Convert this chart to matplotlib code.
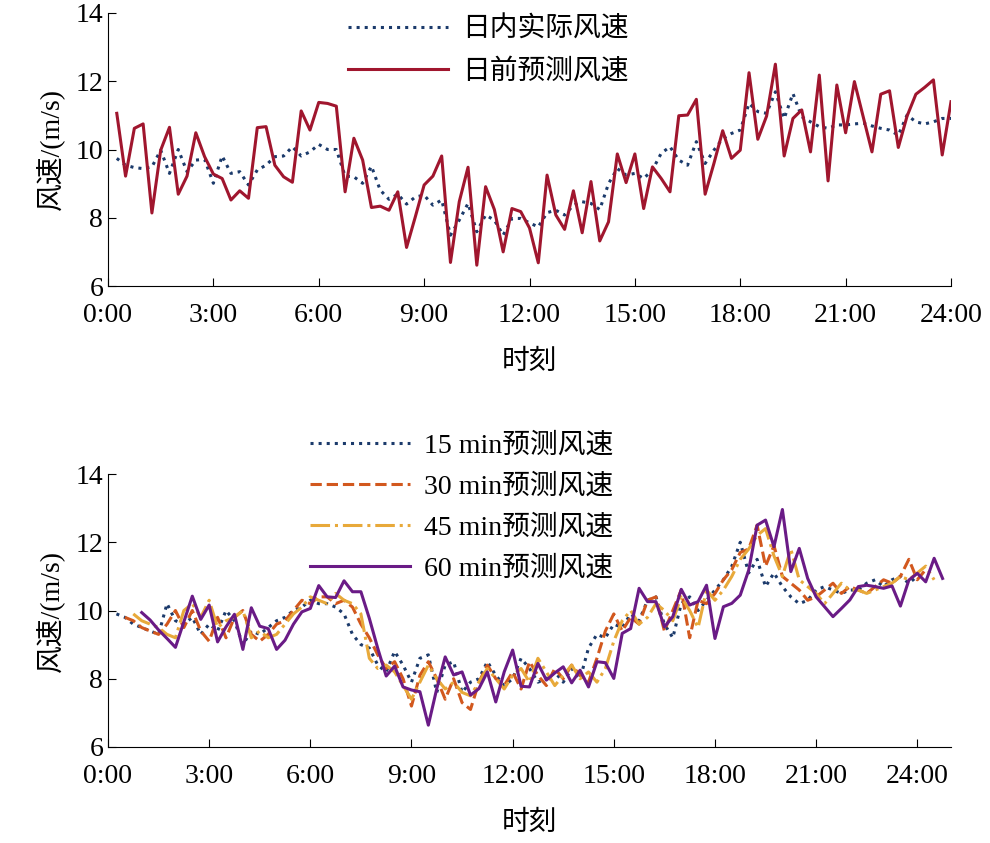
import matplotlib.pyplot as plt
import numpy as np
from matplotlib import font_manager

names = {f.name for f in font_manager.fontManager.ttflist}
cjk = [n for n in ['Noto Sans CJK SC', 'Noto Sans CJK JP', 'Noto Serif CJK SC'] if n in names]
plt.rcParams['font.family'] = ['Liberation Serif'] + cjk
plt.rcParams['font.size'] = 19

# top panel: quarter-hour values 0:15 .. 24:00
actual = [9.74, 9.54, 9.47, 9.44, 9.49, 9.98, 9.30, 10.0, 9.35, 9.69, 9.71, 9.01,
          9.81, 9.30, 9.35, 8.96, 9.40, 9.54, 9.79, 9.81, 10.08, 9.81, 9.93, 10.15,
          10.0, 10.0, 9.22, 9.20, 9.01, 9.51, 8.81, 8.54, 8.69, 8.40, 8.61, 8.66,
          8.37, 8.52, 7.49, 7.93, 8.42, 7.59, 8.08, 7.93, 7.49, 7.98, 7.98, 7.85,
          7.73, 8.15, 8.22, 8.08, 8.37, 8.47, 8.42, 8.24, 9.0, 9.44, 9.25, 9.30,
          9.15, 9.40, 9.89, 10.08, 9.69, 9.54, 10.23, 9.59, 9.98, 10.32, 10.47, 10.57,
          11.35, 11.11, 11.06, 11.69, 10.91, 11.64, 10.96, 10.81, 10.67, 10.62, 10.72, 10.72,
          10.75, 10.77, 10.69, 10.62, 10.57, 10.42, 11.01, 10.81, 10.75, 10.81, 10.91, 10.91]
dayahead = [11.06, 9.22, 10.62, 10.75, 8.14, 9.98, 10.65, 8.69, 9.22, 10.49, 9.79, 9.28,
            9.15, 8.52, 8.79, 8.57, 10.64, 10.67, 9.54, 9.20, 9.04, 11.13, 10.57, 11.38,
            11.35, 11.27, 8.76, 10.33, 9.69, 8.30, 8.34, 8.22, 8.76, 7.13, 8.03, 8.96,
            9.22, 9.81, 6.69, 8.47, 9.48, 6.61, 8.91, 8.24, 7.00, 8.27, 8.18, 7.70,
            6.68, 9.25, 8.08, 7.66, 8.79, 7.56, 9.06, 7.32, 7.88, 9.87, 9.03, 9.87,
            8.27, 9.49, 9.15, 8.76, 10.99, 11.01, 11.47, 8.69, 9.59, 10.55, 9.74, 9.98,
            12.25, 10.30, 10.98, 12.50, 9.81, 10.91, 11.16, 9.93, 12.18, 9.08, 11.89, 10.49,
            11.99, 10.96, 9.93, 11.62, 11.72, 10.06, 10.98, 11.62, 11.82, 12.04, 9.84, 11.40]

# bottom panel: rolling forecasts, 96 quarter-hour values each
f15 = [9.9, 9.8, 9.6, 9.5, 9.4, 9.3, 10.2, 9.7, 9.6, 9.8, 9.3, 9.6, 9.4, 10.0, 9.7, 9.0,
       9.4, 9.3, 9.5, 9.7, 9.8, 10.0, 10.1, 10.3, 10.2, 10.2, 10.1, 9.9, 9.3, 9.0, 8.9, 8.4,
       8.2, 8.8, 8.4, 7.9, 8.6, 8.7, 7.6, 8.4, 8.5, 7.6, 7.9, 8.0, 8.5, 8.1, 7.8, 8.0,
       8.6, 8.3, 7.9, 8.0, 8.2, 7.9, 8.3, 8.0, 8.9, 9.3, 9.2, 9.6, 9.5, 9.9, 9.7, 10.3,
       10.4, 9.6, 9.2, 10.2, 10.4, 10.0, 10.3, 10.6, 10.9, 11.3, 12.0, 11.1, 11.5, 10.7, 11.1, 10.7,
       10.4, 10.2, 10.3, 10.6, 10.7, 10.6, 10.5, 10.6, 10.6, 10.8, 10.9, 10.7, 10.9, 11.0, 10.8, 11.0]
f30 = [9.8, 9.7, 9.5, 9.4, 9.3, 9.6, 10.0, 9.5, 10.0, 9.4, 9.1, 9.8, 9.2, 9.8, 10.0, 9.3,
       9.1, 9.3, 9.6, 9.7, 10.0, 10.3, 10.2, 10.4, 10.4, 10.2, 10.3, 10.1, 9.6, 9.2, 8.7, 8.3,
       8.5, 8.0, 7.2, 8.1, 8.5, 8.0, 7.4, 8.0, 7.3, 7.1, 7.9, 8.4, 8.0, 7.8, 8.2, 7.7,
       8.5, 8.1, 7.8, 8.3, 8.0, 8.4, 8.1, 7.9, 8.6, 9.4, 9.9, 9.4, 9.8, 9.6, 10.3, 10.4,
       9.4, 10.0, 10.6, 9.2, 10.3, 10.2, 10.5, 10.9, 11.2, 11.7, 11.8, 12.5, 11.3, 11.9, 11.0, 10.8,
       10.6, 10.3, 10.4, 10.6, 10.8, 10.5, 10.7, 10.6, 10.5, 10.7, 10.9, 10.8, 11.0, 11.5, 10.9, 11.2]
f45 = [9.9, 9.7, 9.6, 9.5, 9.3, 9.2, 10.0, 10.2, 9.8, 10.3, 9.5, 9.7, 9.8, 10.0, 9.2, 9.4,
       9.2, 9.3, 9.6, 9.9, 10.1, 10.4, 10.3, 10.2, 10.5, 10.3, 10.2, 9.9, 8.6, 8.3, 8.4, 8.2,
       7.8, 7.4, 7.9, 8.4, 8.0, 7.7, 7.9, 7.6, 7.5, 7.9, 8.3, 8.0, 7.7, 8.1, 8.3, 7.9,
       8.6, 8.2, 7.8, 8.1, 8.4, 8.0, 8.2, 7.9, 8.3, 9.1, 9.7, 10.0, 9.6, 9.8, 10.2, 10.0,
       9.7, 10.4, 10.0, 9.5, 10.6, 10.3, 10.6, 11.0, 11.5, 11.8, 12.2, 12.4, 11.6, 11.0, 11.8, 10.9,
       10.7, 10.5, 10.2, 10.5, 10.8, 10.6, 10.6, 10.5, 10.6, 10.7, 10.8, 11.0, 10.9, 11.1, 11.3, 10.9]
f60 = [9.94, 9.72, 9.43, 9.18, 8.92, 9.67, 10.42, 9.74, 10.16, 9.08, 9.52, 9.89, 8.86, 10.08,
       9.54, 9.47, 8.86, 9.13, 9.60, 9.96, 10.06, 10.73, 10.40, 10.38, 10.87, 10.55, 10.55,
       9.77, 8.89, 8.08, 8.37, 7.76, 7.67, 7.62, 6.64, 7.71, 8.64, 8.11, 8.20, 7.52, 7.71,
       8.20, 7.32, 8.20, 8.84, 7.78,
       7.76, 8.45, 7.96, 8.17, 8.35, 7.88, 8.25, 7.76, 8.50, 8.47, 8.01, 9.33, 9.47, 10.65,
       10.26, 10.26, 9.52, 9.82, 10.62, 10.16, 10.26, 10.74, 9.18, 10.11, 10.21, 10.45, 11.18,
       12.50, 12.65, 11.87, 12.96, 11.14, 11.82, 10.94, 10.40, 10.11, 9.82, 10.06, 10.31,
       10.70, 10.74, 10.70, 10.65, 10.72, 10.13, 10.89, 11.09, 10.84, 11.53, 10.94]

tick_labels = ['0:00', '3:00', '6:00', '9:00', '12:00', '15:00', '18:00', '21:00', '24:00']

blue = '#1b3a6b'
red = '#a0162e'


def style(ax, xmax):
    ax.spines['top'].set_visible(False)
    ax.spines['right'].set_visible(False)
    ax.tick_params(direction='in', length=6, labelsize=20)
    ax.tick_params(axis='x', pad=12)
    ax.set_xlim(0, xmax)
    ax.set_ylim(6, 14)
    ax.set_yticks([6, 8, 10, 12, 14])
    ax.set_xticks(np.arange(0, 25, 3))
    ax.set_xticklabels(tick_labels)
    ax.set_xlabel('时刻', fontsize=20, labelpad=16)
    ax.set_ylabel('风速/(m/s)', fontsize=20, labelpad=8)


fig = plt.figure(figsize=(9.9, 8.43), dpi=100)
ax1 = fig.add_axes([108 / 990, 1 - 286 / 843, 843 / 990, 273 / 843])
ax2 = fig.add_axes([108 / 990, 1 - 747 / 843, 843 / 990, 273 / 843])

t = np.arange(1, 97) / 4
ax1.plot(t, actual, ':', color=blue, lw=2.2, label='日内实际风速')
ax1.plot(t, dayahead, '-', color=red, lw=2.2, label='日前预测风速')
style(ax1, 24)
ax1.legend(loc='upper left', bbox_to_anchor=(0.255, 1.08), frameon=False, fontsize=20,
           handlelength=3.6, labelspacing=0.6, handletextpad=0.5)

ax2.plot(t, f15, ':', color=blue, lw=2.2, label='15 min预测风速')
ax2.plot(t + 0.25, f30, '--', color='#d2581e', lw=2.2, label='30 min预测风速')
ax2.plot(t + 0.5, f45, '-.', color='#e8a93a', lw=2.2, label='45 min预测风速')
ax2.plot(t + 0.75, f60, '-', color='#6a1b86', lw=2.2, label='60 min预测风速')
style(ax2, 25)
ax2.legend(loc='upper left', bbox_to_anchor=(0.21, 1.24), frameon=False, fontsize=20,
           handlelength=3.6, labelspacing=0.55, handletextpad=0.5)

fig.savefig('out.png', dpi=100)
